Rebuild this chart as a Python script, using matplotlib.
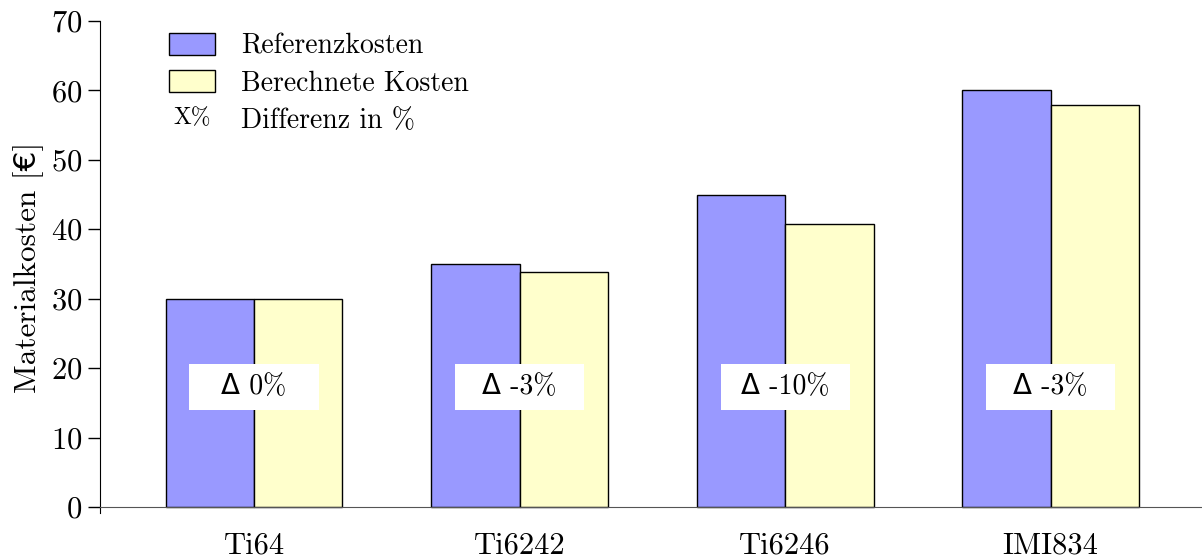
import numpy as np
import matplotlib.pyplot as plt
from matplotlib.patches import Patch, Rectangle
from matplotlib.legend_handler import HandlerBase
from matplotlib.text import Text

plt.rcParams['font.family'] = ['cmr10', 'DejaVu Sans']
plt.rcParams['mathtext.fontset'] = 'cm'
plt.rcParams['axes.unicode_minus'] = False
plt.rcParams['axes.formatter.use_mathtext'] = True

materials = ["Ti64", "Ti6242", "Ti6246", "IMI834"]
referenz = [30, 35, 45, 60]
berechnet = [30, 33.9, 40.8, 57.9]
differenz = [0, -3, -10, -3]

blue = "#9999ff"
yellow = "#ffffcc"


class TextHandler(HandlerBase):
    # legend entry whose "handle" is a short piece of text
    def __init__(self, text):
        super().__init__()
        self.text = text

    def create_artists(self, legend, orig_handle, xdescent, ydescent,
                       width, height, fontsize, trans):
        t = Text(width / 2 - xdescent, height / 2 - ydescent, self.text,
                 ha="center", va="center", fontsize=fontsize * 0.85,
                 family=['cmr10', 'DejaVu Sans'], transform=trans)
        return [t]


fig = plt.figure(figsize=(12.02, 5.59), dpi=100)
ax = fig.add_axes([0.0832, 0.0818, 0.9168, 0.8807])

x = np.arange(len(materials))
w = 0.333
ax.bar(x - w / 2, referenz, w, color=blue, edgecolor="black", linewidth=1, zorder=2)
ax.bar(x + w / 2, berechnet, w, color=yellow, edgecolor="black", linewidth=1, zorder=2)

# fixed-size white label boxes with the percentage difference
box_w, box_h, box_y = 0.486, 6.6, 17.25
for xi, d in zip(x, differenz):
    ax.add_patch(Rectangle((xi - box_w / 2, box_y - box_h / 2), box_w, box_h,
                           facecolor="white", edgecolor="none", zorder=3))
    ax.text(xi, box_y, "Δ %d%%" % d, ha="center", va="center", fontsize=20, zorder=4)

ax.set_xlim(-0.58, 3.57)
ax.set_ylim(-0.9, 70)
ax.set_yticks(range(0, 71, 10))
ax.set_xticks(x)
ax.set_xticklabels(materials)
ax.tick_params(axis="x", length=0, pad=18, labelsize=22)
ax.tick_params(axis="y", direction="out", length=9, width=1, labelsize=22, pad=4)
ax.spines["top"].set_visible(False)
ax.spines["right"].set_visible(False)
ax.spines["bottom"].set_position(("data", 0))
ax.spines["bottom"].set_color("#555555")
ax.set_ylabel("Materialkosten [€]", fontsize=22.5, labelpad=5)

handles = [Patch(facecolor=blue, edgecolor="black"),
           Patch(facecolor=yellow, edgecolor="black"),
           Patch(visible=False)]
labels = ["Referenzkosten", "Berechnete Kosten", "Differenz in %"]
ax.legend(handles, labels, loc="upper left", bbox_to_anchor=(0.04, 1.027),
          frameon=False, fontsize=20, handlelength=1.65, handleheight=0.85,
          handletextpad=0.95, labelspacing=0.38,
          handler_map={handles[2]: TextHandler("X%")})

fig.savefig("out.png", dpi=100)
